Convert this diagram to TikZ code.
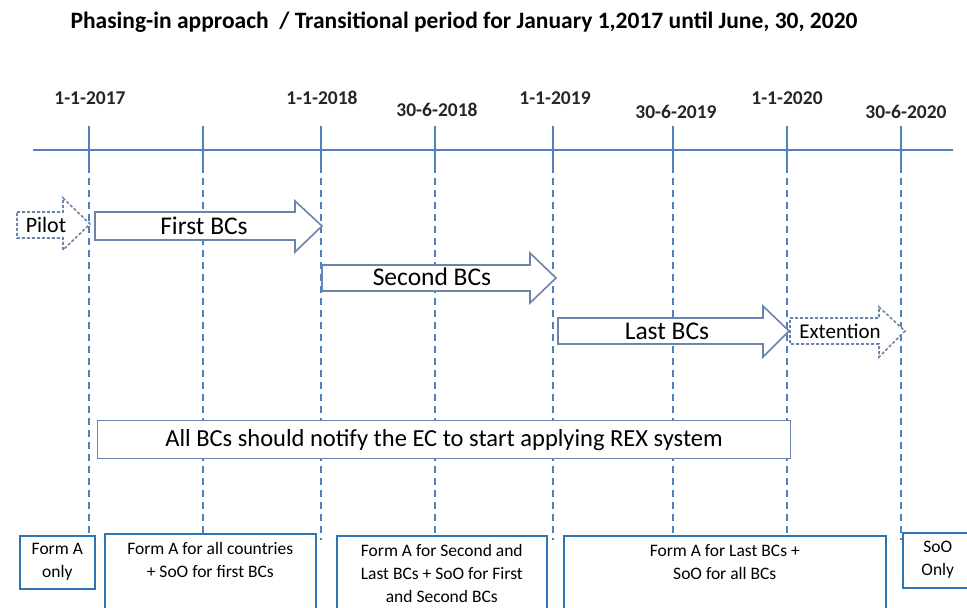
\documentclass[tikz,border=0pt]{standalone}
\usepackage{fontspec}
\setmainfont{Carlito}
\definecolor{tl}{RGB}{79,129,189}
\definecolor{arr}{RGB}{108,132,172}
\definecolor{bx}{RGB}{46,117,182}
\begin{document}
\begin{tikzpicture}[x=1pt,y=-1pt,
  datelbl/.style={font=\fontsize{19.5}{22}\selectfont\bfseries, text=black!85, inner sep=0pt},
  vdash/.style={draw=tl, line width=1.2pt, dash pattern=on 7pt off 5pt},
  arrowshape/.style={draw=arr, line width=1.6pt, fill=white, line join=miter},
  ghostarrow/.style={draw=arr, line width=1.6pt, fill=white, dash pattern=on 3pt off 2pt},
  arrlbl/.style={font=\fontsize{25.5}{28}\selectfont, inner sep=0pt},
  formbox/.style={draw=bx, line width=1.6pt, fill=white, anchor=north west, inner sep=0pt},
  formtext/.style={align=center, anchor=north, inner sep=0pt, font=\fontsize{17.5}{23}\selectfont},
]
\useasboundingbox (0,0) rectangle (967,608);
% title
\node[font=\fontsize{23.5}{26}\selectfont\bfseries, inner sep=0pt] (title) at (464,22) {Phasing-in approach \ / Transitional period for January 1,2017 until June, 30, 2020};
% dashed vertical lines
\foreach \x/\n in {89/a,203/b,321/c,435/d,553/e,673/f,787/g,901/h}{
  \coordinate (top\n) at (\x,166);
  \coordinate (bot\n) at (\x,540);
  \draw[vdash] (top\n) -- (bot\n);
}
% timeline
\coordinate (tlL) at (33,150);
\coordinate (tlR) at (953,150);
\draw[tl, line width=2.6pt] (tlL) -- (tlR);
\foreach \x/\n in {89/a,203/b,321/c,435/d,553/e,673/f,787/g,901/h}{
  \coordinate (tk\n) at (\x,126);
  \coordinate (tb\n) at (\x,166);
  \draw[tl, line width=2.6pt] (tk\n) -- (tb\n);
}
% dates
\node[datelbl] (d1) at (90,98) {1-1-2017};
\node[datelbl] (d2) at (322,98) {1-1-2018};
\node[datelbl] (d3) at (437,110) {30-6-2018};
\node[datelbl] (d4) at (555,98) {1-1-2019};
\node[datelbl] (d5) at (676,112) {30-6-2019};
\node[datelbl] (d6) at (787,98) {1-1-2020};
\node[datelbl] (d7) at (906,112) {30-6-2020};
% arrows
\draw[ghostarrow] (17,212) -- (63,212) -- (63,198) -- (90,224) -- (63,250) -- (63,238) -- (17,238) -- cycle;
\node[arrlbl, font=\fontsize{22}{24}\selectfont] (pilot) at (46,225) {Pilot};
\draw[arrowshape] (95,212) -- (295,212) -- (295,201) -- (322,226) -- (295,252) -- (295,240) -- (95,240) -- cycle;
\node[arrlbl] (first) at (204,226) {First BCs};
\draw[arrowshape] (322,265) -- (530,265) -- (530,253) -- (556,278) -- (530,303) -- (530,291) -- (322,291) -- cycle;
\node[arrlbl] (second) at (432,277) {Second BCs};
\draw[arrowshape] (558,318) -- (763,318) -- (763,306) -- (789,331) -- (763,357) -- (763,344) -- (558,344) -- cycle;
\node[arrlbl] (last) at (667,331) {Last BCs};
\draw[ghostarrow] (790,318) -- (879,318) -- (879,307) -- (905,331) -- (879,357) -- (879,344) -- (790,344) -- cycle;
\node[arrlbl, font=\fontsize{21}{24}\selectfont] (ext) at (840,331) {Extention};
% notify box
\node[draw=arr, line width=1.2pt, fill=white, minimum width=693pt, minimum height=38pt, anchor=north west, inner sep=0pt, font=\fontsize{24.5}{26}\selectfont] (notify) at (97,420) {All BCs should notify the EC to start applying REX system};
% bottom boxes
\node[formbox, minimum width=75pt, minimum height=53pt] (b1) at (19,535) {};
\node[formtext] (t1) at ([yshift=-8pt]b1.north) {Form A\\only};
\node[formbox, minimum width=211pt, minimum height=90pt] (b2) at (104,533) {};
\node[formtext] (t2) at ([yshift=-9pt]b2.north) {Form A for all countries\\+ SoO for first BCs};
\node[formbox, minimum width=210pt, minimum height=90pt] (b3) at (336,535) {};
\node[formtext] (t3) at ([yshift=-9pt]b3.north) {Form A for Second and\\Last BCs + SoO for First\\and Second BCs};
\node[formbox, minimum width=322pt, minimum height=90pt] (b4) at (563,535) {};
\node[formtext] (t4) at ([yshift=-9pt]b4.north) {Form A for Last BCs +\\SoO for all BCs};
\node[formbox, minimum width=70pt, minimum height=55pt] (b5) at (902,532) {};
\node[formtext] (t5) at ([yshift=-9pt]b5.north) {SoO\\Only};
\end{tikzpicture}
\end{document}
